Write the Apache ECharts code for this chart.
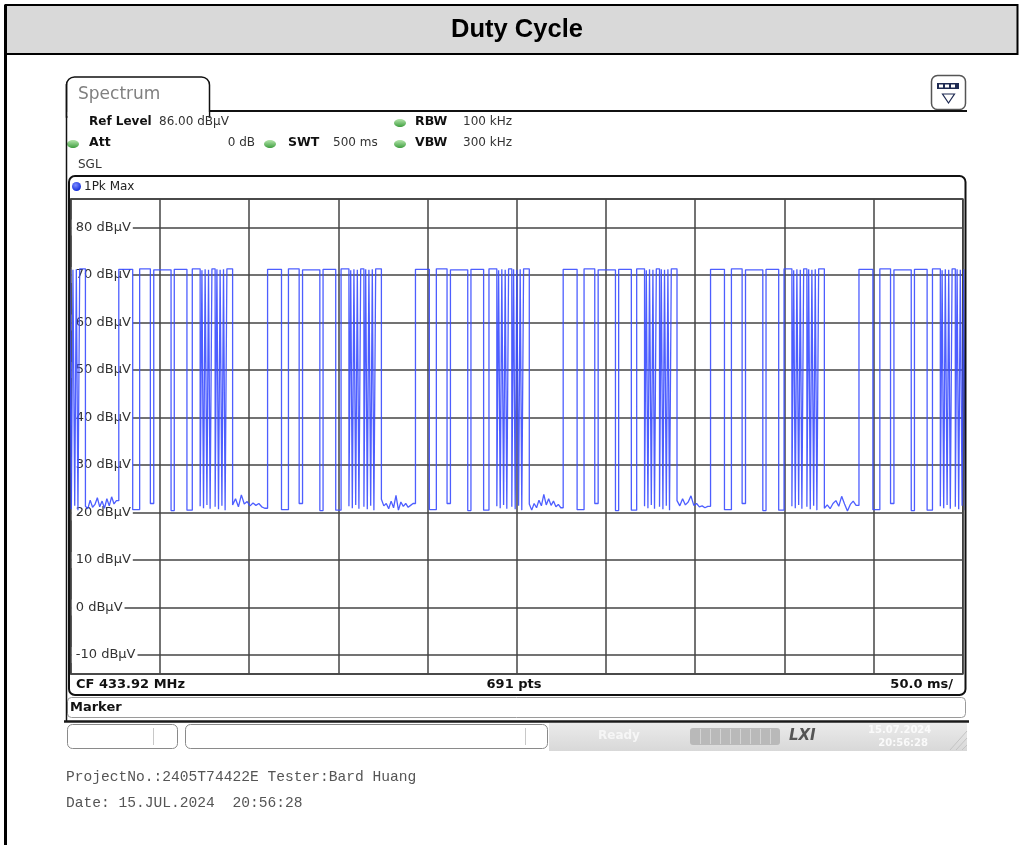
<!DOCTYPE html>
<html>
<head>
<meta charset="utf-8">
<title>Duty Cycle</title>
<script src="https://cdn.jsdelivr.net/npm/echarts@6/dist/echarts.min.js"></script>
<style>
  html, body { margin: 0; padding: 0; background: #fff; }
  #chart { width: 1022px; height: 845px; }
</style>
</head>
<body>
<div id="chart"></div>
<script>
// Duty cycle - zero span sweep, 1Pk Max trace (500 ms, 691 pts)

// start of each repeated code burst (ms), first one begins before the sweep
const burstStartMs = [-55.6, 26.9, 110.3, 193.2, 276.0, 358.6, 441.8];
// on/off edges inside one burst, relative to its start (ms)
const codeEdgesMs = [0, 7.8, 11.7, 17.7, 19.6, 29.3, 31.1, 38.2, 41.2, 45.6, 46.6, 47.5, 48.4,
    49.4, 50.3, 51.2, 52.2, 54.0, 55.0, 55.9, 56.8, 57.8, 58.7, 59.6, 60.6, 63.8];
// level of each pulse top and of each short dip (dBµV)
const codeHighDb = [71.2, 71.3, 71.1, 71.2, 71.3, 71.0, 71.2, 71.1, 71.3, 71.2, 71.1, 71.2, 71.3];
const codeDipDb = [20.6, 21.9, 20.4, 20.5, 21.3, 20.9, 21.6, 20.8, 21.2, 20.7, 21.4, 20.5];
// noise floor between bursts (dBµV)
const gapA = [21.3, 20.8, 22.6, 21.1, 21.7, 23.1, 21.2, 22.4, 20.9, 22.9, 21.4, 23.3, 21.8, 22.5];
const gapB = [21.6, 22.9, 21.2, 23.7, 21.8, 22.3, 21.4, 22.0, 21.5, 21.9, 21.2, 20.9];
const gapC = [22.8, 21.4, 21.9, 20.8, 22.4, 21.0, 23.6, 20.5, 22.2, 21.3, 21.9, 21.1, 21.5, 21.9];
const gapD = [21.8, 20.5, 21.9, 21.0, 22.6, 21.4, 23.8, 21.6, 22.9, 21.5, 22.4, 21.2, 21.7, 21.0];
const gapE = [22.5, 21.4, 22.9, 21.6, 22.2, 23.5, 21.5, 21.9, 21.2, 21.4, 21.0, 21.3];
const gapF = [20.9, 21.6, 20.8, 21.9, 22.5, 21.3, 23.4, 21.8, 20.3, 21.7, 22.4, 21.5];

const gapNoise = [gapA, gapB, gapC, gapD, gapE, gapF];

// build the step trace
const trace = [];
burstStartMs.forEach((start, b) => {
    const gap = gapNoise[b] || [];
    const prevGap = gapNoise[b - 1];
    let low = prevGap ? prevGap[prevGap.length - 1] : codeDipDb[0];
    for (let p = 0; p < codeHighDb.length; p++) {
        const on = start + codeEdgesMs[2 * p];
        const off = start + codeEdgesMs[2 * p + 1];
        const next = p < codeDipDb.length ? codeDipDb[p] : (gap.length ? gap[0] : low);
        trace.push([on, low], [on, codeHighDb[p]], [off, codeHighDb[p]], [off, next]);
        low = next;
    }
    if (gap.length && b + 1 < burstStartMs.length) {
        const end = start + codeEdgesMs[codeEdgesMs.length - 1];
        const step = (burstStartMs[b + 1] - end) / gap.length;
        gap.forEach((v, k) => { if (k > 0) trace.push([end + k * step, v]); });
    }
});

const UI = '"DejaVu Sans", Verdana, sans-serif';
const green = new echarts.graphic.LinearGradient(0, 0, 0, 1, [
    { offset: 0, color: '#b5e6ad' }, { offset: 1, color: '#3f9e3f' }]);
const blue = new echarts.graphic.RadialGradient(0.4, 0.35, 0.7, [
    { offset: 0, color: '#7d8cff' }, { offset: 1, color: '#0a25d8' }]);

function txt(text, x, y, font, fill, align) {
    return { type: 'text', z: 20, style: { text: text, x: x, y: y, font: font, fill: fill || '#222',
        align: align || 'left', verticalAlign: 'middle' } };
}
function dot(cx, cy) {
    return { type: 'ellipse', z: 20, shape: { cx: cx, cy: cy, rx: 6, ry: 4 }, style: { fill: green } };
}
function hline(x1, x2, y, stroke, w) {
    return { type: 'line', z: 21, shape: { x1: x1, y1: y, x2: x2, y2: y }, style: { stroke: stroke, lineWidth: w } };
}
function vline(x, y1, y2, stroke, w) {
    return { type: 'line', z: 21, shape: { x1: x, y1: y1, x2: x, y2: y2 }, style: { stroke: stroke, lineWidth: w } };
}

const decor = [
    // page frame and heading
    { type: 'rect', z: 10, shape: { x: 5.5, y: 5, width: 1012, height: 49 },
      style: { fill: '#d9d9d9', stroke: '#000', lineWidth: 2 } },
    vline(5.5, 5, 845, '#000', 3),
    txt('Duty Cycle', 517, 30, 'bold 25.5px "Liberation Sans", Arial, sans-serif', '#000', 'center'),

    // Spectrum tab
    { type: 'rect', z: 15, shape: { x: 66.5, y: 77, width: 143, height: 40, r: [8, 8, 0, 0] },
      style: { fill: '#fff', stroke: '#111', lineWidth: 1.5 } },
    { type: 'rect', z: 16, shape: { x: 67.5, y: 112, width: 141, height: 8 }, style: { fill: '#fff' } },
    hline(209, 967, 111, '#111', 2),
    vline(66.5, 84, 722, '#111', 1.5),
    txt('Spectrum', 78, 95, '17px ' + UI, '#808080'),

    // settings icon
    { type: 'rect', z: 20, shape: { x: 931.5, y: 75.5, width: 34, height: 34, r: 6 },
      style: { fill: '#fff', stroke: '#555', lineWidth: 1.5 } },
    { type: 'rect', z: 21, shape: { x: 937, y: 83, width: 22, height: 6 }, style: { fill: '#1e2a52' } },
    { type: 'rect', z: 22, shape: { x: 939, y: 84.5, width: 4, height: 3 }, style: { fill: '#fff' } },
    { type: 'rect', z: 22, shape: { x: 945, y: 84.5, width: 4, height: 3 }, style: { fill: '#fff' } },
    { type: 'rect', z: 22, shape: { x: 951, y: 84.5, width: 4, height: 3 }, style: { fill: '#fff' } },
    { type: 'polygon', z: 21, shape: { points: [[942.5, 94], [954.5, 94], [948.5, 103]] },
      style: { fill: '#fff', stroke: '#1e2a52', lineWidth: 1.2 } },

    // settings
    txt('Ref Level', 89, 122, 'bold 12px ' + UI, '#111'),
    txt('86.00 dBµV', 159, 122, '12px ' + UI, '#333'),
    dot(400, 123), txt('RBW', 415, 122, 'bold 12.5px ' + UI, '#111'), txt('100 kHz', 463, 122, '12px ' + UI, '#333'),
    dot(73, 144), txt('Att', 89, 143, 'bold 12.5px ' + UI, '#111'),
    txt('0 dB', 255, 143, '12px ' + UI, '#333', 'right'),
    dot(270, 144), txt('SWT', 288, 143, 'bold 12.5px ' + UI, '#111'), txt('500 ms', 333, 143, '12px ' + UI, '#333'),
    dot(400, 144), txt('VBW', 415, 143, 'bold 12.5px ' + UI, '#111'), txt('300 kHz', 463, 143, '12px ' + UI, '#333'),
    txt('SGL', 78, 165, '12px ' + UI, '#333'),

    // diagram box
    { type: 'rect', z: 12, shape: { x: 69, y: 176, width: 896.5, height: 519, r: 6 },
      style: { fill: null, stroke: '#111', lineWidth: 2 } },
    { type: 'circle', z: 20, shape: { cx: 76.5, cy: 186.5, r: 4.5 }, style: { fill: blue } },
    txt('1Pk Max', 84, 186.5, '12px ' + UI, '#222'),
    txt('CF 433.92 MHz', 76, 685, 'bold 13px ' + UI, '#111'),
    txt('691 pts', 514, 685, 'bold 13px ' + UI, '#111', 'center'),
    txt('50.0 ms/', 953, 685, 'bold 13px ' + UI, '#111', 'right'),

    // marker table
    { type: 'rect', z: 12, shape: { x: 67.5, y: 697.5, width: 898, height: 20, r: 4 },
      style: { fill: '#fff', stroke: '#9a9a9a', lineWidth: 1 } },
    txt('Marker', 70, 708, 'bold 13px ' + UI, '#111'),

    // status bar
    hline(64, 969, 721.5, '#1a1a1a', 2.5),
    { type: 'rect', z: 12, shape: { x: 549, y: 723, width: 418, height: 28 },
      style: { fill: new echarts.graphic.LinearGradient(0, 0, 0, 1, [
          { offset: 0, color: '#ebebeb' }, { offset: 1, color: '#d8d8d8' }]) } },
    { type: 'rect', z: 15, shape: { x: 67.5, y: 724.5, width: 110, height: 24, r: 5 },
      style: { fill: '#fff', stroke: '#8a8a8a', lineWidth: 1 } },
    vline(153.5, 728, 745, '#c8c8c8', 1),
    { type: 'rect', z: 15, shape: { x: 185.5, y: 724.5, width: 362, height: 24, r: 5 },
      style: { fill: '#fff', stroke: '#8a8a8a', lineWidth: 1 } },
    vline(525.5, 728, 745, '#c8c8c8', 1),
    txt('Ready', 598, 736, 'bold 12px ' + UI, '#f6f6f6'),
    { type: 'rect', z: 15, shape: { x: 690, y: 728, width: 90, height: 17, r: 3 }, style: { fill: '#b9b9b9' } },
    vline(700.5, 729, 744, '#d4d4d4', 1), vline(710.5, 729, 744, '#d4d4d4', 1), vline(720.5, 729, 744, '#d4d4d4', 1),
    vline(730.5, 729, 744, '#d4d4d4', 1), vline(740.5, 729, 744, '#d4d4d4', 1), vline(750.5, 729, 744, '#d4d4d4', 1),
    vline(760.5, 729, 744, '#d4d4d4', 1), vline(770.5, 729, 744, '#d4d4d4', 1),
    txt('LXI', 789, 736, 'italic bold 15px ' + UI, '#555'),
    txt('15.07.2024', 868, 730, 'bold 10px ' + UI, '#fafafa'),
    txt('20:56:28', 928, 743, 'bold 10px ' + UI, '#fafafa', 'right'),
    { type: 'line', z: 16, shape: { x1: 950, y1: 750, x2: 967, y2: 731 }, style: { stroke: '#c4c4c4', lineWidth: 1 } },
    { type: 'line', z: 16, shape: { x1: 956, y1: 750, x2: 967, y2: 738 }, style: { stroke: '#c4c4c4', lineWidth: 1 } },
    { type: 'line', z: 16, shape: { x1: 962, y1: 750, x2: 967, y2: 745 }, style: { stroke: '#c4c4c4', lineWidth: 1 } },

    // report footer
    txt('ProjectNo.:2405T74422E Tester:Bard Huang', 66, 777, '14.6px "Liberation Mono", "Courier New", monospace', '#555'),
    txt('Date: 15.JUL.2024  20:56:28', 66, 803, '14.6px "Liberation Mono", "Courier New", monospace', '#555')
];

const chart = echarts.init(document.getElementById('chart'), null, { renderer: 'canvas' });
chart.setOption({
    backgroundColor: '#fff',
    animation: false,
    grid: { left: 70.8, top: 199, width: 892, height: 475, show: true, borderColor: '#2a2a2a', borderWidth: 1.5 },
    xAxis: {
        type: 'value', min: 0, max: 500, interval: 50,
        axisLine: { show: false }, axisTick: { show: false }, axisLabel: { show: false },
        splitLine: { lineStyle: { color: '#454545', width: 1.5 } }
    },
    yAxis: {
        type: 'value', min: -14, max: 86, splitNumber: 10, minInterval: 10, maxInterval: 10,
        axisLine: { show: false }, axisTick: { show: false },
        axisLabel: {
            inside: true, margin: 1, showMinLabel: false, showMaxLabel: false,
            formatter: v => (v % 10 === 0 ? v + ' dBµV' : ''),
            color: '#333', fontFamily: 'DejaVu Sans', fontSize: 13,
            backgroundColor: '#fff', padding: [2, 2, 1, 4]
        },
        splitLine: { lineStyle: { color: '#454545', width: 1.5 } }
    },
    series: [{
        name: '1Pk Max', type: 'line', data: trace, showSymbol: false, symbol: 'none',
        clip: true, z: 5,
        lineStyle: { color: '#3a4dff', width: 1.3, opacity: 0.9 }
    }],
    graphic: { elements: decor }
});
</script>
</body>
</html>
